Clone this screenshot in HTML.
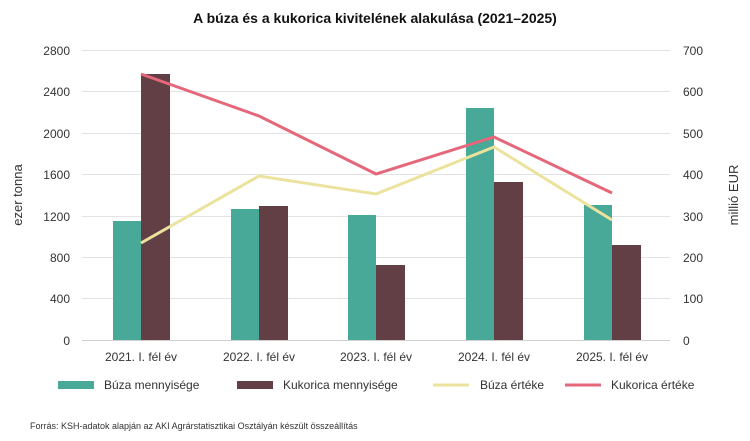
<!DOCTYPE html><html><head><style>body{margin:0;background:#fff}svg{display:block;font-family:"Liberation Sans",sans-serif}</style></head><body>
<svg width="750" height="441" viewBox="0 0 750 441">
<text x="375" y="23" text-anchor="middle" font-size="14" font-weight="bold" fill="#111">A búza és a kukorica kivitelének alakulása (2021–2025)</text>
<g stroke="#e3e3e3" stroke-width="1">
<line x1="82" x2="670" y1="50.5" y2="50.5"/><line x1="82" x2="670" y1="91.5" y2="91.5"/><line x1="82" x2="670" y1="133.5" y2="133.5"/><line x1="82" x2="670" y1="174.5" y2="174.5"/><line x1="82" x2="670" y1="216.5" y2="216.5"/><line x1="82" x2="670" y1="257.5" y2="257.5"/><line x1="82" x2="670" y1="298.5" y2="298.5"/></g>
<line x1="82" x2="670" y1="340.5" y2="340.5" stroke="#d0d0d0"/>
<g font-size="12" fill="#333" text-anchor="end">
<text x="70" y="55">2800</text><text x="70" y="96">2400</text><text x="70" y="138">2000</text><text x="70" y="179">1600</text><text x="70" y="221">1200</text><text x="70" y="262">800</text><text x="70" y="303">400</text><text x="70" y="345">0</text></g>
<g font-size="12" fill="#333" text-anchor="start">
<text x="683" y="55">700</text><text x="683" y="96">600</text><text x="683" y="138">500</text><text x="683" y="179">400</text><text x="683" y="221">300</text><text x="683" y="262">200</text><text x="683" y="303">100</text><text x="683" y="345">0</text></g>
<text transform="translate(22,195) rotate(-90)" text-anchor="middle" font-size="13" fill="#333">ezer tonna</text>
<text transform="translate(738,195) rotate(-90)" text-anchor="middle" font-size="13" fill="#333">millió EUR</text>
<g fill="#48a999">
<rect x="113" y="221" width="28" height="119"/><rect x="231" y="209" width="28" height="131"/><rect x="348" y="215" width="28" height="125"/><rect x="466" y="108" width="28" height="232"/><rect x="584" y="205" width="28" height="135"/></g>
<g fill="#623f45">
<rect x="141" y="74" width="29" height="266"/><rect x="259" y="206" width="29" height="134"/><rect x="376" y="265" width="29" height="75"/><rect x="494" y="182" width="29" height="158"/><rect x="612" y="245" width="29" height="95"/></g>
<polyline points="141,243 259,176 376,194 494,147 612,220" fill="none" stroke="#ebe39d" stroke-width="3"/>
<polyline points="141,74 259,116 376,174 494,137 612,193" fill="none" stroke="#e4677a" stroke-width="3"/>
<g font-size="12" fill="#333" text-anchor="middle">
<text x="141" y="361">2021. I. fél év</text><text x="259" y="361">2022. I. fél év</text><text x="376" y="361">2023. I. fél év</text><text x="494" y="361">2024. I. fél év</text><text x="612" y="361">2025. I. fél év</text></g>
<g font-size="12" fill="#333">
<rect x="58" y="381" width="36" height="8" fill="#48a999"/><text x="104" y="389">Búza mennyisége</text>
<rect x="237" y="381" width="36" height="8" fill="#623f45"/><text x="283" y="389">Kukorica mennyisége</text>
<line x1="433" x2="469" y1="385" y2="385" stroke="#ebe39d" stroke-width="3"/><text x="480" y="389">Búza értéke</text>
<line x1="565" x2="601" y1="385" y2="385" stroke="#e4677a" stroke-width="3"/><text x="611" y="389">Kukorica értéke</text></g>
<text x="30" y="429" font-size="9" fill="#333">Forrás: KSH-adatok alapján az AKI Agrárstatisztikai Osztályán készült összeállítás</text>
</svg></body></html>
